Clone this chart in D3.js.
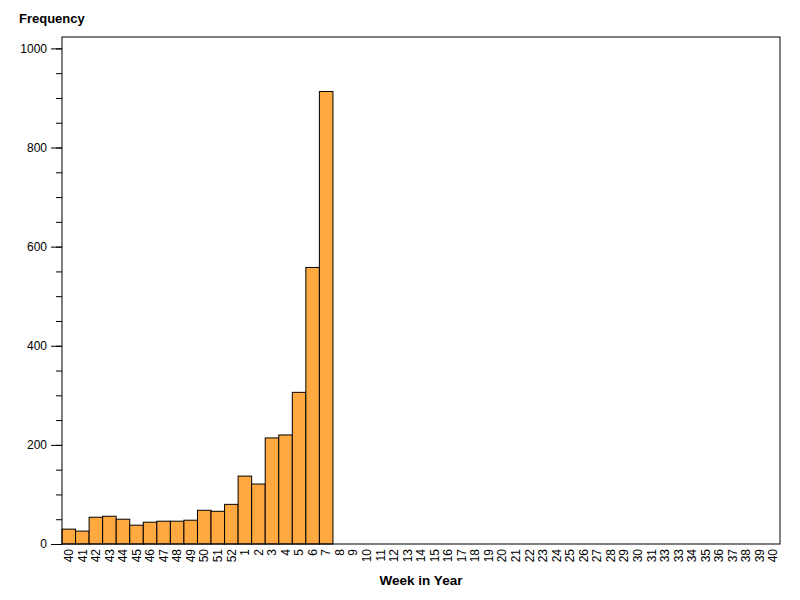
<!DOCTYPE html>
<html>
<head>
<meta charset="utf-8">
<script src="https://cdn.jsdelivr.net/npm/d3@7"></script>
<style>
  body { margin: 0; background: #fff; }
  text { font-family: "Liberation Sans", Arial, sans-serif; }
</style>
</head>
<body>
<div id="container"></div>
<script>
/* DATA */
const weekLabels = ["40","41","42","43","44","45","46","47","48","49","50","51","52",
  "1","2","3","4","5","6","7",
  "8","9","10","11","12","13","14","15","16","17","18","19","20","21","22","23","24",
  "25","26","27","28","29","30","31","33","33","34","35","36","37","38","39","40"]
const counts = [30, 26, 54, 56, 50, 38, 44, 46, 46, 48, 68, 66, 80,
  137, 121, 214, 220, 306, 558, 913]
const yTicks = [0, 200, 400, 600, 800, 1000]

/* CONSTANTS */
const width = 800,
  height = 600,
  margin = { top: 37, right: 20, bottom: 56, left: 62 }

const data = weekLabels.map((w, i) => ({ i: i, week: w, count: i < counts.length ? counts[i] : null }))

const svg = d3.select("#container")
  .append("svg")
  .attr("width", width)
  .attr("height", height)

// SCALES
const xScale = d3.scaleBand()
  .domain(data.map(d => d.i))
  .range([margin.left, width - margin.right])
  .padding(0)

const yScale = d3.scaleLinear()
  .domain([0, 1023])
  .range([height - margin.bottom, margin.top])

// BARS
svg.selectAll(".bar")
  .data(data.filter(d => d.count != null))
  .join("rect")
  .attr("class", "bar")
  .attr("x", d => xScale(d.i))
  .attr("y", d => yScale(d.count))
  .attr("width", xScale.bandwidth())
  .attr("height", d => yScale(0) - yScale(d.count))
  .attr("fill", "#ffa940")
  .attr("stroke", "black")
  .attr("stroke-width", 1)

// FRAME
svg.append("rect")
  .attr("x", margin.left)
  .attr("y", margin.top)
  .attr("width", width - margin.left - margin.right)
  .attr("height", height - margin.top - margin.bottom)
  .attr("fill", "none")
  .attr("stroke", "black")

// X AXIS
const xAxis = d3.axisBottom(xScale)
  .tickSize(0)
  .tickFormat(i => weekLabels[i])

svg.append("g")
  .attr("class", "xAxis")
  .attr("transform", `translate(0, ${height - margin.bottom})`)
  .call(xAxis)
  .call(g => g.select(".domain").remove())
  .selectAll("text")
  .attr("transform", "rotate(-90)")
  .attr("text-anchor", "end")
  .attr("x", -5)
  .attr("y", 0)
  .attr("dy", "0.35em")
  .attr("font-size", 12)
  .attr("fill", "#000")

// Y AXIS (major + minor ticks)
svg.append("g")
  .attr("class", "yMinor")
  .attr("transform", `translate(${margin.left}, 0)`)
  .call(d3.axisLeft(yScale).tickValues(d3.range(0, 1001, 50)).tickSize(6).tickFormat(""))
  .call(g => g.select(".domain").remove())

svg.append("g")
  .attr("class", "yAxis")
  .attr("transform", `translate(${margin.left}, 0)`)
  .call(d3.axisLeft(yScale).tickValues(yTicks).tickSize(11).tickPadding(4).tickFormat(d3.format("d")))
  .call(g => g.select(".domain").remove())
  .selectAll("text")
  .attr("font-size", 12)
  .attr("fill", "#000")

// LABELS
svg.append("text")
  .attr("x", 19)
  .attr("y", 23)
  .attr("font-size", 13)
  .attr("font-weight", "bold")
  .text("Frequency")

svg.append("text")
  .attr("text-anchor", "middle")
  .attr("x", (margin.left + width - margin.right) / 2)
  .attr("y", 585)
  .attr("font-size", 13.5)
  .attr("font-weight", "bold")
  .text("Week in Year")
</script>
</body>
</html>
